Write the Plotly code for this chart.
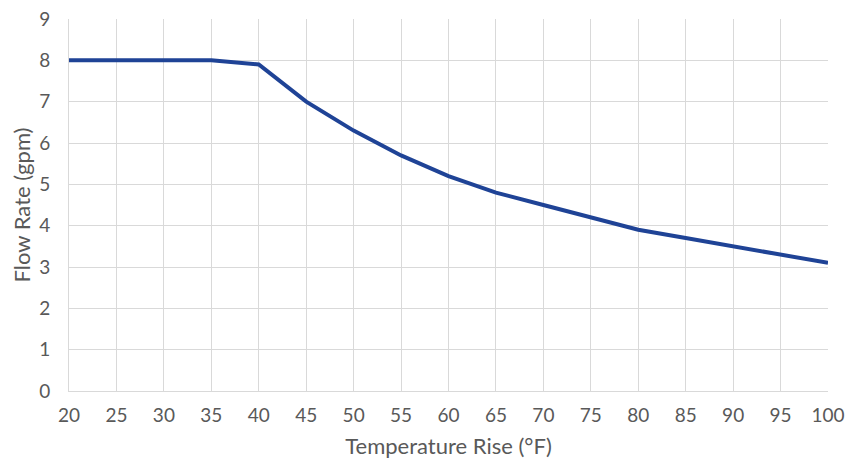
import plotly.graph_objects as go

# Temperatura vs caudal
temp_rise = [20, 25, 30, 35, 40, 45, 50, 55, 60, 65, 70, 75, 80, 85, 90, 95, 100]
flow_rate = [8.0, 8.0, 8.0, 8.0, 7.9, 7.0, 6.3, 5.7, 5.2, 4.8, 4.5, 4.2, 3.9, 3.7, 3.5, 3.3, 3.1]

fig = go.Figure()
fig.add_trace(go.Scatter(
    x=temp_rise, y=flow_rate, mode="lines",
    line=dict(color="#1F4396", width=4),
))

grid = "#D9D9D9"
# la página añade 8px de margen alrededor, el lienzo es 840x451
fig.update_layout(
    width=840, height=451,
    margin=dict(l=61, r=20, t=11, b=68),
    plot_bgcolor="white", paper_bgcolor="white",
    font=dict(family="Lato", size=19, color="#595959"),
    showlegend=False,
    xaxis=dict(
        title=dict(text="Temperature Rise (°F)", font=dict(size=22), standoff=16),
        range=[20, 100], dtick=5, tick0=20, automargin=False,
        showgrid=True, gridcolor=grid, gridwidth=1,
        showline=True, linecolor=grid, linewidth=1,
        ticks="", ticklabelstandoff=7, zeroline=False,
        ticklabeloverflow="allow",
    ),
    yaxis=dict(
        title=dict(text="Flow Rate (gpm)", font=dict(size=22), standoff=4),
        range=[0, 9], dtick=1, automargin=False,
        showgrid=True, gridcolor=grid, gridwidth=1,
        showline=True, linecolor=grid, linewidth=1,
        ticks="", ticklabelstandoff=14, zeroline=False,
        ticklabeloverflow="allow",
    ),
)

fig.write_html("out.html")
